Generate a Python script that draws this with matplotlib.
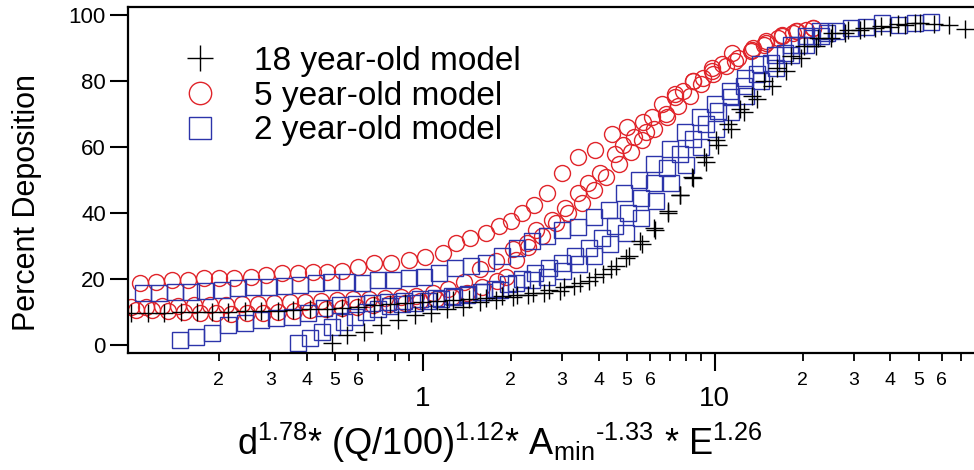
import matplotlib
matplotlib.use("Agg")
import matplotlib.pyplot as plt
from matplotlib.ticker import FixedLocator, FixedFormatter

plt.rcParams['font.family'] = ['Liberation Sans', 'DejaVu Sans']
plt.rcParams['mathtext.fontset'] = 'custom'
plt.rcParams['mathtext.rm'] = 'Liberation Sans'
plt.rcParams['mathtext.it'] = 'Liberation Sans:italic'

# 18 year-old model (two runs)
k1_x = [0.100, 0.114, 0.130, 0.148, 0.168, 0.19, 0.215, 0.245, 0.28, 0.32, 0.36, 0.41, 0.47, 0.53, 0.6,
        0.68, 0.77, 0.87, 0.99, 1.12, 1.27, 1.44, 1.64, 1.86, 2.1, 2.38, 2.7, 3.05, 3.45, 3.9, 4.4, 4.95,
        5.55, 6.2, 6.9, 7.6, 8.4, 9.3, 10.3, 11.4, 12.6, 14.0, 15.7, 17.6, 19.8, 22.3, 25.0, 28.0, 31.5,
        35.5, 40.0, 45.0, 50.5, 56.5, 63.5, 72.0]
k1_y = [9.7, 9.7, 9.8, 9.9, 10.0, 10.0, 10.1, 10.2, 10.3, 10.4, 10.6, 10.8, 11.0, 11.3, 11.6, 12.0, 12.3,
        12.6, 12.9, 13.2, 13.5, 13.9, 14.3, 14.8, 15.3, 15.9, 16.7, 17.6, 18.8, 20.6, 23.0, 26.5, 31.5,
        35.5, 40.5, 45.5, 50.5, 55.5, 60.5, 65.5, 70.5, 74.5, 78.5, 83.0, 87.0, 90.5, 93.0, 94.5, 95.5,
        96.0, 96.5, 97.0, 97.5, 97.2, 97.0, 95.8]
k2_x = [0.49, 0.55, 0.63, 0.72, 0.82, 0.94, 1.07, 1.21, 1.37, 1.57, 1.78, 2.03, 2.3, 2.6, 2.95, 3.3, 3.7,
        4.15, 4.6, 5.1, 5.65, 6.25, 6.9, 7.6, 8.35, 9.2, 10.1, 11.1, 12.2, 13.4, 14.8, 16.4, 18.2, 20.2,
        22.5, 25.2, 28.5, 32.5, 37.0, 42.5, 48.5]
k2_y = [0.6, 3.0, 4.0, 6.0, 7.6, 9.0, 9.7, 11.0, 11.5, 13.0, 13.6, 14.5, 15.2, 15.8, 16.5, 17.8, 19.5,
        21.5, 24.0, 27.0, 30.5, 35.0, 40.0, 45.5, 51.0, 57.0, 62.0, 67.0, 71.5, 75.5, 80.0, 84.0, 87.5,
        90.5, 93.0, 94.5, 95.5, 96.0, 96.8, 97.2, 97.5]

# 5 year-old model (three runs)
r1_x = [0.107, 0.122, 0.138, 0.157, 0.178, 0.2, 0.226, 0.258, 0.29, 0.33, 0.375, 0.42, 0.47, 0.53, 0.6,
        0.68, 0.78, 0.9, 1.02, 1.17, 1.3, 1.45, 1.64, 1.82, 2.0, 2.18, 2.4, 2.66, 2.99, 3.4, 3.88, 4.44,
        5.0, 5.66, 6.6, 7.3, 8.4, 9.8, 11.5, 13.5, 15.0, 17.0, 19.2, 21.7]
r1_y = [18.8, 19.2, 19.7, 19.7, 20.3, 20.3, 20.3, 20.6, 21.2, 21.8, 21.8, 22.0, 22.0, 22.5, 23.6, 24.8,
        25.0, 25.8, 26.7, 28.0, 31.0, 32.4, 34.0, 36.0, 37.5, 40.0, 42.5, 46.0, 52.0, 57.0, 59.0, 64.0,
        66.0, 67.6, 73.0, 76.0, 80.0, 84.0, 88.5, 90.0, 92.0, 94.0, 95.0, 96.0]
r2_x = [0.1, 0.113, 0.128, 0.145, 0.165, 0.187, 0.212, 0.24, 0.272, 0.308, 0.35, 0.395, 0.448, 0.508,
        0.575, 0.652, 0.74, 0.84, 0.95, 1.08, 1.22, 1.38, 1.57, 1.78, 2.03, 2.27, 2.45, 2.77, 3.06, 3.39,
        3.67, 4.04, 4.54, 4.84, 5.3, 5.8, 6.1, 6.8, 7.3, 7.8, 8.4, 9.1, 9.8, 10.6, 11.7, 13.4, 15.0, 17.0,
        19.0, 21.7]
r2_y = [11.5, 11.5, 11.8, 11.8, 12.0, 12.0, 12.2, 12.4, 12.5, 12.8, 13.0, 13.0, 13.2, 13.5, 13.8, 14.0,
        14.2, 14.5, 15.0, 15.8, 17.0, 19.0, 23.0, 25.5, 29.0, 31.0, 35.0, 38.0, 41.5, 46.0, 49.0, 52.0,
        58.0, 60.6, 63.0, 64.5, 69.0, 70.0, 75.0, 77.0, 80.0, 81.0, 83.0, 85.0, 86.0, 89.5, 91.5, 93.5,
        95.0, 96.0]
r3_x = [0.104, 0.118, 0.134, 0.152, 0.172, 0.195, 0.221, 0.25, 0.283, 0.32, 0.362, 0.41, 0.465, 0.527,
        0.597, 0.676, 0.765, 0.866, 0.98, 1.11, 1.26, 1.42, 1.6, 1.8, 1.92, 2.08, 2.3, 2.55, 2.85, 3.15,
        3.5, 3.85, 4.25, 4.7, 5.15, 5.65, 6.2, 6.85, 7.5, 8.2, 9.0, 9.9, 10.9, 12.0, 13.3, 14.8, 16.5,
        18.5, 20.5]
r3_y = [10.5, 10.5, 10.3, 10.0, 9.8, 9.6, 9.5, 9.6, 9.8, 10.0, 10.3, 10.6, 11.0, 11.3, 11.6, 12.0, 12.3,
        12.7, 13.2, 13.8, 14.6, 15.8, 17.5, 19.5, 20.6, 25.8, 29.7, 33.0, 37.0, 40.0, 43.0, 47.0, 51.0,
        55.0, 58.5, 62.0, 65.5, 69.0, 72.5, 75.5, 79.0, 82.0, 84.5, 87.0, 89.0, 91.0, 93.0, 94.5, 95.5]

# 2 year-old model (three runs)
b1_x = [0.11, 0.125, 0.142, 0.16, 0.18, 0.205, 0.232, 0.262, 0.296, 0.335, 0.38, 0.43, 0.485, 0.55, 0.62,
        0.7, 0.79, 0.9, 1.01, 1.14, 1.29, 1.46, 1.65, 1.86, 2.1, 2.37, 2.67, 3.0, 3.4, 3.85, 4.35, 4.9,
        5.5, 6.2, 7.0, 7.9, 8.9, 10.0, 11.3, 12.7, 14.3, 16.1, 18.2, 20.5, 23.0]
b1_y = [15.7, 15.8, 16.0, 16.0, 16.3, 16.6, 17.3, 17.5, 17.6, 18.0, 18.2, 18.8, 19.0, 19.0, 18.8, 19.7,
        19.7, 20.3, 20.6, 21.8, 23.3, 24.0, 25.0, 27.0, 29.5, 31.5, 33.0, 34.8, 35.8, 38.8, 41.0, 46.0,
        50.0, 55.0, 59.5, 64.5, 69.0, 73.0, 77.0, 81.0, 85.0, 88.0, 91.0, 93.5, 95.0]
b2_x = [0.147, 0.167, 0.19, 0.215, 0.245, 0.278, 0.315, 0.357, 0.405, 0.46, 0.52, 0.59, 0.67, 0.76, 0.86,
        0.98, 1.11, 1.26, 1.43, 1.62, 1.84, 2.08, 2.36, 2.67, 3.02, 3.42, 3.87, 4.38, 4.95, 5.6, 6.3, 7.1,
        8.0, 9.0, 10.1, 11.4, 12.8, 14.4, 16.2, 18.3, 20.6, 23.2, 26.0, 29.2, 33.0, 37.5, 42.8, 48.6, 55.0]
b2_y = [1.5, 2.4, 3.6, 6.0, 6.7, 7.6, 8.2, 8.5, 9.7, 11.2, 12.0, 12.3, 12.6, 13.0, 13.4, 13.8, 14.3, 14.8,
        15.4, 16.0, 16.7, 18.8, 19.7, 20.6, 22.5, 24.5, 27.0, 30.5, 34.0, 38.5, 43.5, 49.0, 54.5, 60.0,
        65.5, 70.5, 75.5, 80.0, 84.0, 88.0, 91.0, 93.5, 95.0, 96.0, 96.4, 97.6, 97.0, 97.6, 98.0]
b3_x = [0.373, 0.41, 0.45, 0.49, 0.535, 0.585, 0.64, 0.7, 0.77, 0.85, 0.94, 1.04, 1.15, 1.28, 1.42, 1.58,
        1.76, 1.96, 2.18, 2.43, 2.7, 3.0, 3.33, 3.7, 4.1, 4.55, 5.05, 5.6, 6.2, 6.85, 7.6, 8.4, 9.3, 10.3,
        11.4, 12.6, 14.0, 15.6, 17.4, 19.4, 21.6, 24.2]
b3_y = [0.6, 2.0, 4.0, 5.5, 7.0, 8.5, 10.0, 11.0, 11.8, 12.3, 12.8, 13.3, 13.9, 14.5, 15.2, 16.0, 17.0,
        18.5, 20.0, 21.8, 23.3, 24.8, 27.0, 29.5, 32.5, 36.0, 40.0, 44.5, 49.0, 53.5, 58.0, 62.5, 67.0,
        71.0, 75.0, 78.5, 82.0, 85.5, 88.5, 91.0, 93.0, 94.5]

labels = ["18 year-old model", "5 year-old model", "2 year-old model"]
minor_ticks = [0.2, 0.3, 0.4, 0.5, 0.6, 0.7, 0.8, 0.9, 2, 3, 4, 5, 6, 7, 8, 9, 20, 30, 40, 50, 60, 70]
minor_labels = ["2", "3", "4", "5", "6", "", "", ""] * 3

red = "#e0242a"
blue = "#2c34aa"

fig = plt.figure(figsize=(9.74, 4.70), dpi=100)
ax = fig.add_axes([0.1314, 0.249, 0.8686, 0.7367])

ms = 11.5
for i, (x, y) in enumerate([(r1_x, r1_y), (r2_x, r2_y), (r3_x, r3_y)]):
    ax.plot(x, y, 'o', ms=ms, mfc='none', mec=red, mew=1.0, label=labels[1] if i == 0 else None)
for i, (x, y) in enumerate([(b1_x, b1_y), (b2_x, b2_y), (b3_x, b3_y)]):
    ax.plot(x, y, 's', ms=ms, mfc='none', mec=blue, mew=1.0, label=labels[2] if i == 0 else None)
for i, (x, y) in enumerate([(k1_x, k1_y), (k2_x, k2_y)]):
    ax.plot(x, y, '+', ms=13, color='black', mew=1.0, label=labels[0] if i == 0 else None)

ax.set_xscale('log')
ax.set_xlim(0.0977, 77.3)
ax.set_ylim(-2.4, 102.5)

ax.spines['right'].set_visible(False)
for s in ['left', 'bottom', 'top']:
    ax.spines[s].set_linewidth(1.6)

ax.set_yticks([0, 20, 40, 60, 80, 100])
ax.tick_params(axis='y', direction='out', length=13, width=1.5, labelsize=16, pad=3)

ax.xaxis.set_major_locator(FixedLocator([1, 10]))
ax.xaxis.set_major_formatter(FixedFormatter(["1", "10"]))
ax.xaxis.set_minor_locator(FixedLocator(minor_ticks))
ax.xaxis.set_minor_formatter(FixedFormatter(minor_labels))
ax.tick_params(axis='x', which='major', direction='out', length=13, width=1.5, labelsize=20, pad=11)
ax.tick_params(axis='x', which='minor', direction='out', length=6, width=1.3, labelsize=14, pad=8)

ax.set_ylabel("Percent Deposition", fontsize=22)
ax.yaxis.set_label_coords(-0.102, 0.436)
ax.set_xlabel(r"d$^{1.78}$* (Q/100)$^{1.12}$* A$_{\mathrm{min}}{}^{\text{-1.33}}$ * E$^{1.26}$",
              fontsize=26)
ax.xaxis.set_label_coords(0.44, -0.197)

handles, labs = ax.get_legend_handles_labels()
order = [labs.index(l) for l in labels]
ax.legend([handles[i] for i in order], [labs[i] for i in order], loc='upper left',
          bbox_to_anchor=(0.05, 0.925), frameon=False, fontsize=24, labelspacing=0.11,
          handletextpad=1.1, handlelength=1.0, borderaxespad=0, markerscale=1.4)

fig.savefig("out.png", dpi=100)
